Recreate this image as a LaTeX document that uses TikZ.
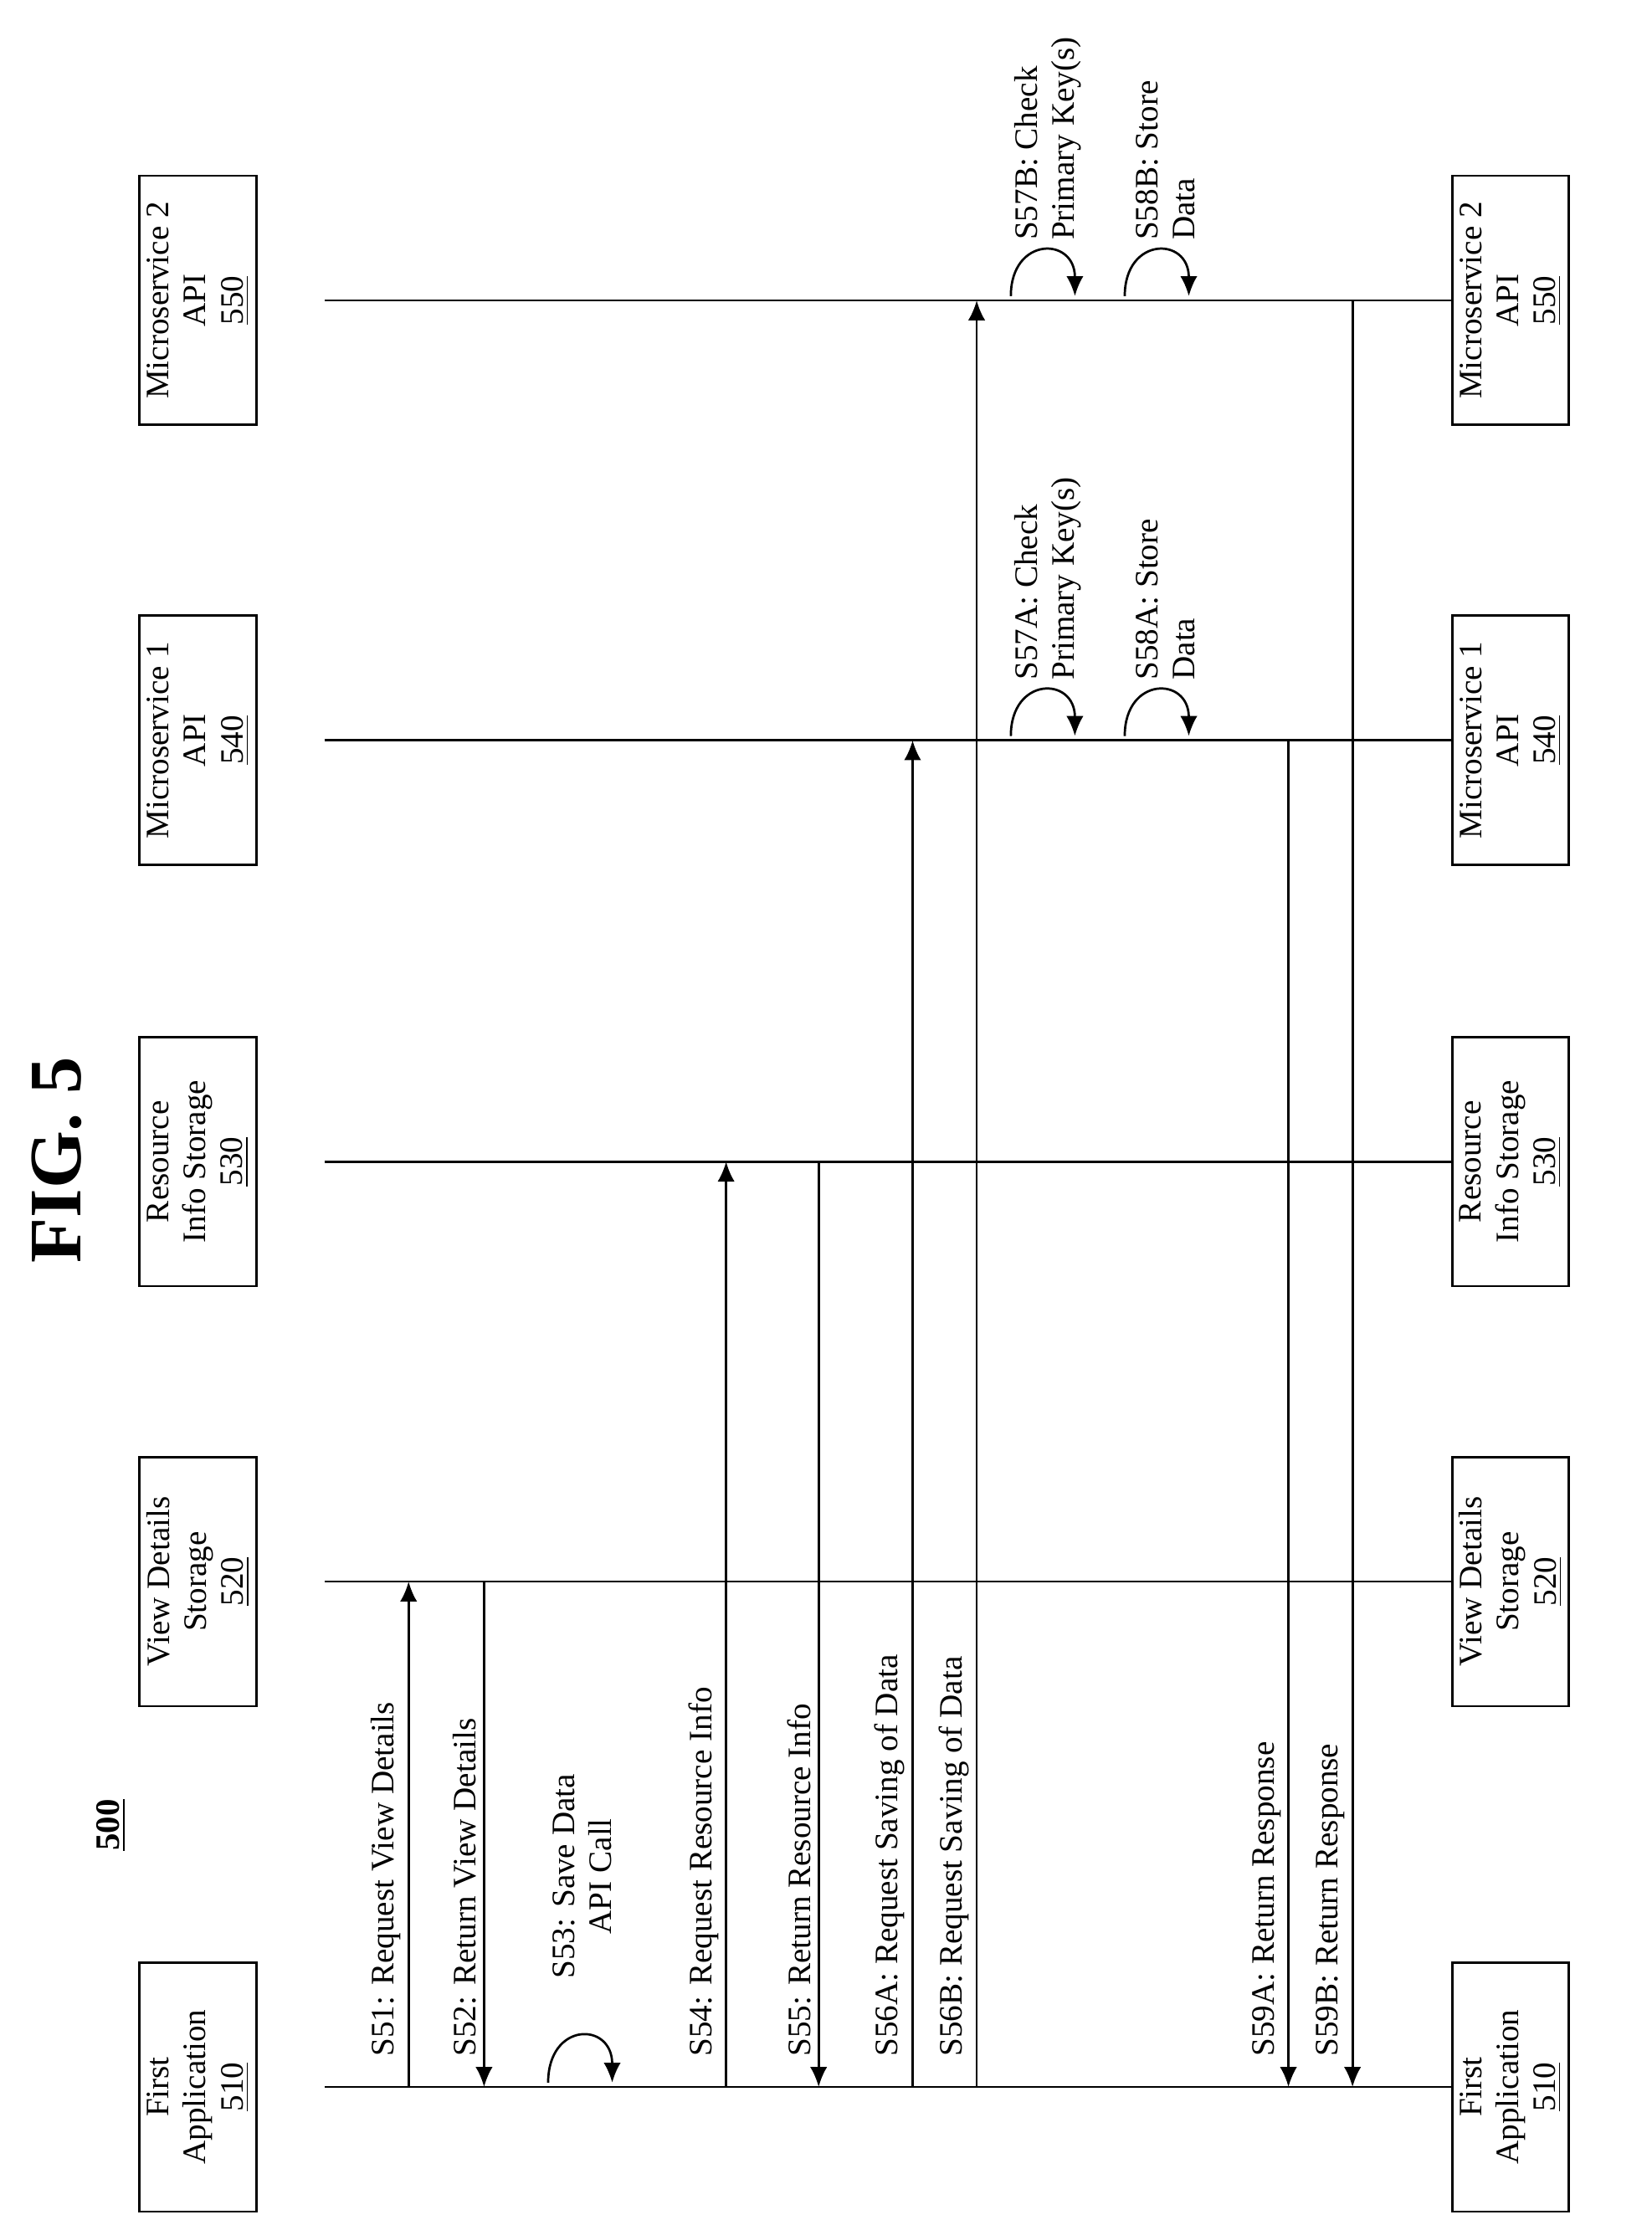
\documentclass[tikz,border=0pt]{standalone}
\usepackage{fontspec}
\setmainfont{Liberation Serif}
\usetikzlibrary{arrows.meta}
\begin{document}
\begin{tikzpicture}[x=0.5pt,y=-0.5pt,
 box/.style={draw,line width=0.8pt,minimum width=87.5pt,minimum height=41pt,rotate=90,align=center,font=\fontsize{11.5}{13}\selectfont,inner sep=1pt},
 ll/.style={line width=0.8pt},
 ar/.style={line width=0.8pt,-{Latex[length=7pt,width=6pt]}},
 lab/.style={rotate=90,font=\fontsize{11.5}{13}\selectfont,inner sep=1pt}]
\useasboundingbox (0,0) rectangle (1160,1563);
\node[rotate=90,font=\bfseries\fontsize{26}{28}\selectfont] (fig) at (40,815) {FIG. 5};
\node[rotate=90,font=\bfseries\fontsize{12}{13}\selectfont] (num) at (78,1282) {\underline{500}};
\node[box] (a1) at (139,1466) {First\\Application\\\underline{510}};
\node[box] (b1) at (139,1111) {View Details\\Storage\\\underline{520}};
\node[box] (c1) at (139,816) {Resource\\Info Storage\\\underline{530}};
\node[box] (d1) at (139,520) {Microservice 1\\API\\\underline{540}};
\node[box] (e1) at (139,211) {Microservice 2\\API\\\underline{550}};
\node[box] (a2) at (1061,1466) {First\\Application\\\underline{510}};
\node[box] (b2) at (1061,1111) {View Details\\Storage\\\underline{520}};
\node[box] (c2) at (1061,816) {Resource\\Info Storage\\\underline{530}};
\node[box] (d2) at (1061,520) {Microservice 1\\API\\\underline{540}};
\node[box] (e2) at (1061,211) {Microservice 2\\API\\\underline{550}};
\foreach \n/\y in {a/1466,b/1111,c/816,d/520,e/211}{
 \coordinate (\n L) at (228,\y); \coordinate (\n R) at (1020,\y);
 \draw[ll] (\n L) -- (\n R);}
\newcommand\msg[5]{%
 \coordinate (#4s) at (#1,#2); \coordinate (#4e) at (#1,#3);
 \draw[ar] (#4s) -- (#4e);
 \node[lab,anchor=south west] (#4t) at (#1-3,1447) {#5};}
\msg{287}{1466}{1111}{m51}{S51: Request View Details}
\msg{340}{1111}{1466}{m52}{S52: Return View Details}
\msg{510}{1466}{816}{m54}{S54: Request Resource Info}
\msg{575}{816}{1466}{m55}{S55: Return Resource Info}
\msg{641}{1466}{520}{m56a}{S56A: Request Saving of Data}
\msg{686}{1466}{211}{m56b}{S56B: Request Saving of Data}
\msg{905}{520}{1466}{m59a}{S59A: Return Response}
\msg{950}{211}{1466}{m59b}{S59B: Return Response}
\newcommand\loopy[4]{%
 \coordinate (#3a) at (#1,#2-3); \coordinate (#3b) at (#1+45,#2-3);
 \draw[ar] (#3a) .. controls (#1,#2-45) and (#1+45,#2-45) .. (#3b);
 \node[lab,anchor=south west,align=left] (#3t) at (#1+52,#2-40) {#4};}
\coordinate (l53a) at (385,1463); \coordinate (l53b) at (430,1463);
\draw[ar] (l53a) .. controls (385,1420) and (430,1420) .. (l53b);
\node[lab,anchor=south,align=center] (l53t) at (432,1318) {S53: Save Data\\API Call};
\loopy{710}{520}{l57a}{S57A: Check\\Primary Key(s)}
\loopy{790}{520}{l58a}{S58A: Store\\Data}
\loopy{710}{211}{l57b}{S57B: Check\\Primary Key(s)}
\loopy{790}{211}{l58b}{S58B: Store\\Data}
\end{tikzpicture}
\end{document}
